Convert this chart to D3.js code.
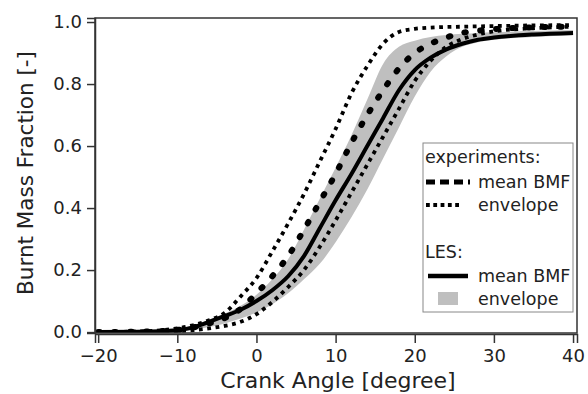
<!DOCTYPE html>
<html><head><meta charset="utf-8">
<script src="https://cdn.jsdelivr.net/npm/d3@7/dist/d3.min.js"></script>
<style>body{margin:0;background:#fff}svg{display:block}text{font-family:"DejaVu Sans",sans-serif;fill:#222}</style>
</head><body>
<script>
const angles      = [-20,-15,-10,-8,-6,-4,-2,0,2,4,6,8,10,12,14,16,18,20,22,24,26,28,30,35,40];
const lesMean     = [0,0.001,0.006,0.015,0.033,0.052,0.072,0.1,0.135,0.18,0.245,0.335,0.425,0.51,0.6,0.69,0.78,0.845,0.885,0.912,0.93,0.943,0.95,0.96,0.965];
const lesEnvUpper = [0,0.002,0.01,0.022,0.04,0.06,0.085,0.12,0.17,0.235,0.33,0.43,0.53,0.635,0.75,0.865,0.92,0.94,0.952,0.958,0.962,0.965,0.967,0.971,0.974];
const lesEnvLower = [0,0,0.002,0.007,0.016,0.028,0.044,0.063,0.09,0.125,0.17,0.22,0.29,0.37,0.46,0.56,0.66,0.76,0.84,0.89,0.92,0.935,0.943,0.952,0.957];
const expMean     = [0,0.001,0.007,0.015,0.028,0.045,0.075,0.125,0.18,0.245,0.33,0.42,0.51,0.61,0.7,0.78,0.85,0.9,0.93,0.95,0.965,0.972,0.977,0.983,0.985];
const expEnvUpper = [0,0.002,0.012,0.022,0.038,0.062,0.115,0.174,0.26,0.35,0.445,0.55,0.655,0.77,0.858,0.93,0.968,0.978,0.982,0.984,0.985,0.986,0.987,0.989,0.99];
const expEnvLower = [0,0,0.003,0.006,0.012,0.02,0.033,0.058,0.097,0.145,0.2,0.275,0.36,0.45,0.54,0.63,0.72,0.81,0.875,0.92,0.945,0.96,0.97,0.98,0.985];
const xTicks = [-20,-10,0,10,20,30,40];
const yTicks = [0,0.2,0.4,0.6,0.8,1.0];

const W=588,H=394;
const svg=d3.select("body").append("svg").attr("width",W).attr("height",H);
const x=d3.scaleLinear().domain([-20.4,40.5]).range([95,577]);
const y=d3.scaleLinear().domain([-0.003,1.013]).range([333,18]);

svg.append("clipPath").attr("id","clip").append("rect")
  .attr("x",95).attr("y",18).attr("width",482).attr("height",315);
const g=svg.append("g").attr("clip-path","url(#clip)");

const band=angles.map((a,i)=>({a,lo:lesEnvLower[i],hi:lesEnvUpper[i]}));
g.append("path").datum(band).attr("fill","#bfbfbf")
  .attr("d",d3.area().curve(d3.curveMonotoneX).x(d=>x(d.a)).y0(d=>y(d.lo)).y1(d=>y(d.hi)));

const line=d3.line().curve(d3.curveMonotoneX).x(d=>x(d[0])).y(d=>y(d[1]));
const pts=arr=>angles.map((a,i)=>[a,arr[i]]);
g.append("path").datum(pts(lesMean)).attr("d",line).attr("fill","none").attr("stroke","#000").attr("stroke-width",4);
g.append("path").datum(pts(expMean)).attr("d",line).attr("fill","none").attr("stroke","#000").attr("stroke-width",6)
  .attr("stroke-dasharray","1.5,14.5").attr("stroke-linecap","round");
[expEnvUpper,expEnvLower].forEach(arr=>{
  g.append("path").datum(pts(arr)).attr("d",line).attr("fill","none").attr("stroke","#000").attr("stroke-width",3.8)
   .attr("stroke-dasharray","3.8,4.6");
});

// frame
svg.append("rect").attr("x",95).attr("y",18).attr("width",482).attr("height",315)
  .attr("fill","none").attr("stroke","#333").attr("stroke-width",1.5);

const xa=svg.append("g").attr("transform","translate(0,334)")
  .call(d3.axisBottom(x).tickValues(xTicks).tickSize(9).tickPadding(6).tickFormat(d3.format("d")));
const ya=svg.append("g").attr("transform","translate(95,0)")
  .call(d3.axisLeft(y).tickValues(yTicks).tickSize(8).tickPadding(5).tickFormat(d3.format(".1f")));
[xa,ya].forEach(a=>{
  a.select(".domain").attr("stroke","#333").attr("stroke-width",1.5);
  a.selectAll(".tick line").attr("stroke","#333").attr("stroke-width",1.5);
  a.selectAll("text").attr("font-size",18).attr("fill","#222").attr("font-family","DejaVu Sans, sans-serif");
});

svg.append("text").attr("x",338).attr("y",388).attr("text-anchor","middle").attr("font-size",22)
  .text("Crank Angle [degree]");
svg.append("text").attr("transform","translate(33,173) rotate(-90)").attr("text-anchor","middle").attr("font-size",21.5)
  .text("Burnt Mass Fraction [-]");

// legend
const lg=svg.append("g");
lg.append("rect").attr("x",423).attr("y",143).attr("width",150).attr("height",169)
  .attr("fill","#fff").attr("stroke","#888").attr("stroke-width",1);
const fs=17.5;
lg.append("text").attr("x",425).attr("y",163).attr("font-size",fs).text("experiments:");
lg.append("line").attr("x1",426).attr("x2",470).attr("y1",182).attr("y2",182).attr("stroke","#000").attr("stroke-width",5).attr("stroke-dasharray","9,5");
lg.append("text").attr("x",478).attr("y",188).attr("font-size",fs).text("mean BMF");
lg.append("line").attr("x1",426).attr("x2",462).attr("y1",205).attr("y2",205).attr("stroke","#000").attr("stroke-width",3.8).attr("stroke-dasharray","3.8,3.5");
lg.append("text").attr("x",478).attr("y",211).attr("font-size",fs).text("envelope");
lg.append("text").attr("x",425).attr("y",258).attr("font-size",fs).text("LES:");
lg.append("line").attr("x1",428).attr("x2",468).attr("y1",276).attr("y2",276).attr("stroke","#000").attr("stroke-width",4.5);
lg.append("text").attr("x",478).attr("y",282).attr("font-size",fs).text("mean BMF");
lg.append("rect").attr("x",438).attr("y",292).attr("width",20).attr("height",13).attr("fill","#bfbfbf");
lg.append("text").attr("x",478).attr("y",305).attr("font-size",fs).text("envelope");
</script>
</body></html>
